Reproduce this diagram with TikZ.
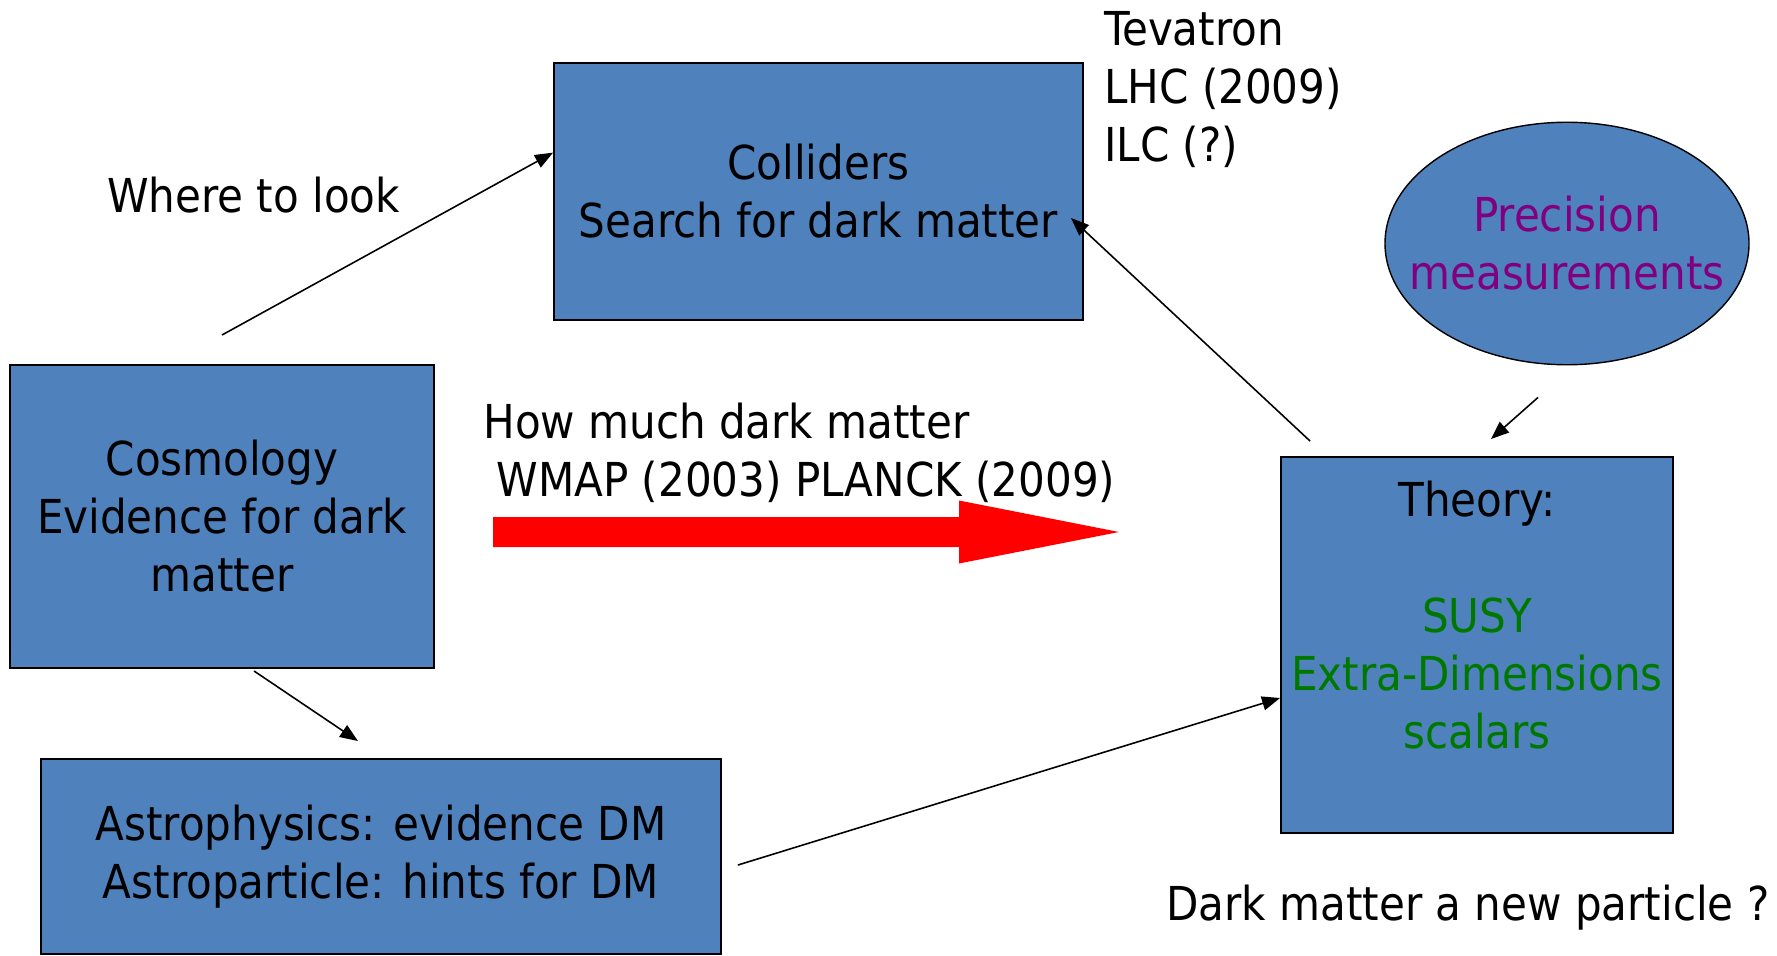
\documentclass[tikz,border=0pt]{standalone}
\usepackage{fontspec}
\setmainfont{DejaVu Sans Condensed}
\usepackage{xcolor}
\usetikzlibrary{arrows.meta,positioning,shapes.geometric,calc}
\definecolor{boxblue}{HTML}{4F81BD}
\definecolor{precpurple}{HTML}{800080}
\definecolor{theorygreen}{HTML}{007800}
\tikzset{
  txt/.style={font=\fontsize{26.6}{33}\selectfont,align=center,inner sep=0pt},
  box/.style={txt,draw,line width=1.1pt,fill=boxblue},
  arr/.style={-{Triangle[length=0.36cm,width=0.28cm]},line width=0.9pt},
}

\begin{document}
\begin{tikzpicture}
\useasboundingbox (0,0) rectangle (35.54,19.10);
% boxes
\node[box,minimum width=10.58cm,minimum height=5.14cm] (coll) at (16.37,15.27) {Colliders\\Search for dark matter};
\node[box,minimum width=8.48cm,minimum height=6.06cm] (cosmo) at (4.44,8.77) {Cosmology\\Evidence for dark\\matter};
\node[box,minimum width=13.60cm,minimum height=3.90cm] (astro) at (7.62,1.97) {Astrophysics: evidence DM\\Astroparticle: hints for DM};
\node[box,minimum width=7.84cm,minimum height=7.52cm] (theory) at (29.54,6.20) {};
\node[txt,anchor=north] (theorytxt) at ($(theory.north)+(0,-0.5)$)
  {Theory:\\[1.16cm]\color{theorygreen}SUSY\\\color{theorygreen}Extra-Dimensions\\\color{theorygreen}scalars};
\node[txt,ellipse,draw,fill=boxblue,line width=0.8pt,inner xsep=-0.8cm,
  minimum width=7.28cm,minimum height=4.85cm,text=precpurple] (prec) at (31.34,14.23) {Precision\\measurements};

% free labels
\node[txt] (where) at (5.07,15.20) {Where to look};
\node[txt,anchor=west,align=left] (exps) at (22.08,17.31) {Tevatron\\LHC (2009)\\ILC (?)};
\node[txt,anchor=west,align=left] (howmuch) at (9.66,10.05) {How much dark matter\\\ WMAP (2003) PLANCK (2009)};
\node[txt,anchor=west] (newpart) at (23.32,0.94) {Dark matter a new particle ?};

% arrows
\coordinate (wl) at (4.44,12.40);
\draw[arr] (wl) -- ($(coll.north west)!0.35!(coll.south west)$);
\draw[arr] ($(theory.north west)+(0.6,0.3)$) -- ($(coll.east)+(-0.26,-0.53)$);
\draw[arr] ($(cosmo.south)+(0.64,-0.04)$) -- ($(astro.north)+(-0.46,0.34)$);
\draw[arr] ($(prec.south)+(-0.58,-0.64)$) -- ($(theory.north)+(0.28,0.34)$);
\draw[arr] ($(astro.east)+(0.32,-0.17)$) -- ($(theory.west)+(0,-1.06)$);

% big red arrow
\coordinate (dmfrom) at (9.86,8.46);
\coordinate (dmto) at (22.38,8.46);
\fill[red] ($(dmfrom)+(0,0.3)$) -- ($(dmto)+(-3.2,0.3)$) -- ($(dmto)+(-3.2,0.63)$) -- (dmto)
  -- ($(dmto)+(-3.2,-0.63)$) -- ($(dmto)+(-3.2,-0.3)$) -- ($(dmfrom)+(0,-0.3)$) -- cycle;
\end{tikzpicture}
\end{document}
